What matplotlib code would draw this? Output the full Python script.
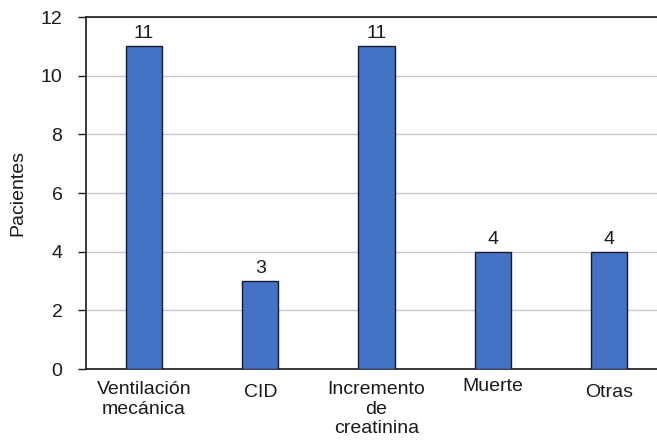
import matplotlib
matplotlib.use("Agg")
import matplotlib.pyplot as plt
from matplotlib.transforms import ScaledTranslation, blended_transform_factory

plt.rcParams['font.family'] = ['Liberation Sans', 'DejaVu Sans']

categories = ["Ventilación\nmecánica", "CID", "Incremento\nde\ncreatinina", "Muerte", "Otras"]
values = [11, 3, 11, 4, 4]
yticks = [0, 2, 4, 6, 8, 10, 12]
# small per-label vertical shift (points) of category names
label_shift = [0, -1.5, 0, 2.5, -1.5]

FS = 14

fig = plt.figure(figsize=(6.57, 4.43), dpi=100)
ax = fig.add_axes([86 / 657, 74 / 443, 581 / 657, 352 / 443])

x = list(range(len(categories)))
ax.bar(x, values, width=0.31, color="#4472C4", edgecolor="#1a1a2a", linewidth=1.0, zorder=3)

for xi, v in zip(x, values):
    ax.annotate(str(v), (xi, v), xytext=(0, 3), textcoords="offset points",
                ha="center", va="bottom", fontsize=FS, color="#1a1a1a")

ax.set_xlim(-0.5, 4.5)
ax.set_ylim(0, 12)
ax.set_yticks(yticks)
ax.yaxis.grid(True, color="#c8c8c8", linewidth=1.0, zorder=0)
ax.set_axisbelow(True)

ax.set_xticks([])
trans = blended_transform_factory(ax.transData, ax.transAxes)
for xi, lab, s in zip(x, categories, label_shift):
    t = trans + ScaledTranslation(0, (-9 + s) / 72, fig.dpi_scale_trans)
    ax.text(xi, 0, lab, transform=t, ha="center", va="top", fontsize=FS,
            color="#1a1a1a", linespacing=1.18)

ax.tick_params(axis="y", direction="out", length=6, width=1.0, pad=11,
               labelsize=FS, colors="#1a1a1a")
ax.set_ylabel("Pacientes", fontsize=FS, color="#1a1a1a", labelpad=10)

for side in ["left", "bottom", "top"]:
    ax.spines[side].set_color("#1a1a1a")
    ax.spines[side].set_linewidth(1.2)
ax.spines["right"].set_visible(False)

fig.savefig("out.png", dpi=100)
